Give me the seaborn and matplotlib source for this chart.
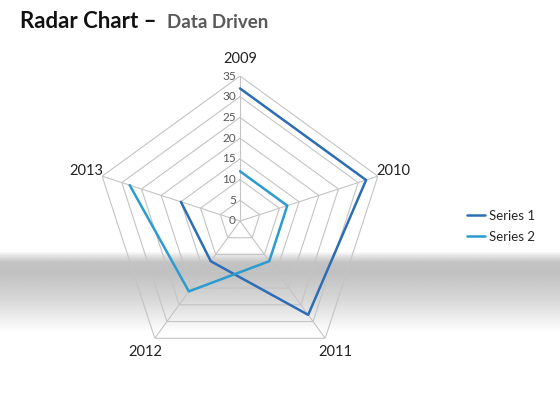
import numpy as np
import pandas as pd
import matplotlib
matplotlib.use("Agg")
import matplotlib.pyplot as plt
import matplotlib.transforms as mtransforms
from matplotlib.lines import Line2D
import seaborn as sns

categories = ["2009", "2010", "2011", "2012", "2013"]
series1 = [32, 32, 28, 12, 15]
series2 = [12, 12, 12, 21, 28]
series_names = ["Series 1", "Series 2"]
radial_ticks = [0, 5, 10, 15, 20, 25, 30, 35]

sns.set_style("white")
plt.rcParams["font.family"] = ["Lato", "DejaVu Sans"]

W, H = 560, 420
fig = plt.figure(figsize=(W / 100, H / 100), dpi=100)
fig.patch.set_facecolor("white")

# background gradient band
bg = fig.add_axes([0, 0, 1, 1], zorder=0)
ys = np.arange(H)
prof = np.interp(ys, [0, 251, 255, 262, 272, 300, 332, H],
                 [255, 255, 230, 195, 192, 216, 255, 255]) / 255.0
img = np.repeat(prof[:, None], 4, axis=1)
bg.imshow(img, cmap="gray", vmin=0, vmax=1, aspect="auto",
          extent=[0, 1, 1, 0], interpolation="bilinear")
bg.set_xlim(0, 1)
bg.set_ylim(1, 0)
bg.axis("off")

cx, cy, R = 240, 221, 145
ax = fig.add_axes([(cx - R) / W, (H - cy - R) / H, 2 * R / W, 2 * R / H],
                  projection="polar", zorder=1)
ax.set_facecolor("none")
ax.set_theta_zero_location("N")
ax.set_theta_direction(-1)
ax.set_ylim(0, 35)
ax.grid(False)
ax.spines["polar"].set_visible(False)
ax.set_xticks([])
ax.set_yticks([])

n = len(categories)
theta = np.linspace(0, 2 * np.pi, n, endpoint=False)
theta_c = np.append(theta, theta[0])

grid_col = "#c4c4c4"
for v in radial_ticks[1:]:
    ax.plot(theta_c, [v] * (n + 1), color=grid_col, lw=0.8, zorder=1)
for t in theta:
    ax.plot([t, t], [0, 35], color=grid_col, lw=0.8, zorder=1)

colors = ["#2C6DB5", "#2B9BD0"]
for vals, name, col in zip([series1, series2], series_names, colors):
    df = pd.DataFrame({"theta": theta_c, "r": list(vals) + [vals[0]]})
    sns.lineplot(data=df, x="theta", y="r", ax=ax, sort=False, color=col,
                 lw=1.8, zorder=3, legend=False)
ax.set_xlabel("")
ax.set_ylabel("")

# category labels
for t, c in zip(theta, categories):
    ax.text(t, 39, c, ha="center", va="center", fontsize=10.5, color="#222222")

# radial tick labels
off = mtransforms.offset_copy(ax.transData, fig=fig, x=-3, y=0, units="points")
for v in radial_ticks:
    ax.text(0, v, str(v), ha="right", va="center", fontsize=8.5,
            color="#595959", transform=off)

# legend
handles = [Line2D([0], [0], color=c, lw=1.8) for c in colors]
fig.legend(handles, series_names, loc="upper left",
           bbox_to_anchor=(455 / W, 1 - 198 / H), frameon=False,
           fontsize=9.5, handlelength=1.4, handletextpad=0.25,
           labelspacing=0.7)

# title
fig.text(20 / W, 1 - 28 / H, "Radar Chart \u2013", fontsize=16,
         fontweight="bold", color="#111111", va="baseline", ha="left")
fig.text(167 / W, 1 - 28 / H, "Data Driven", fontsize=13.5,
         fontweight="bold", color="#595959", va="baseline", ha="left")

fig.savefig("out.png", dpi=100, facecolor="white")
